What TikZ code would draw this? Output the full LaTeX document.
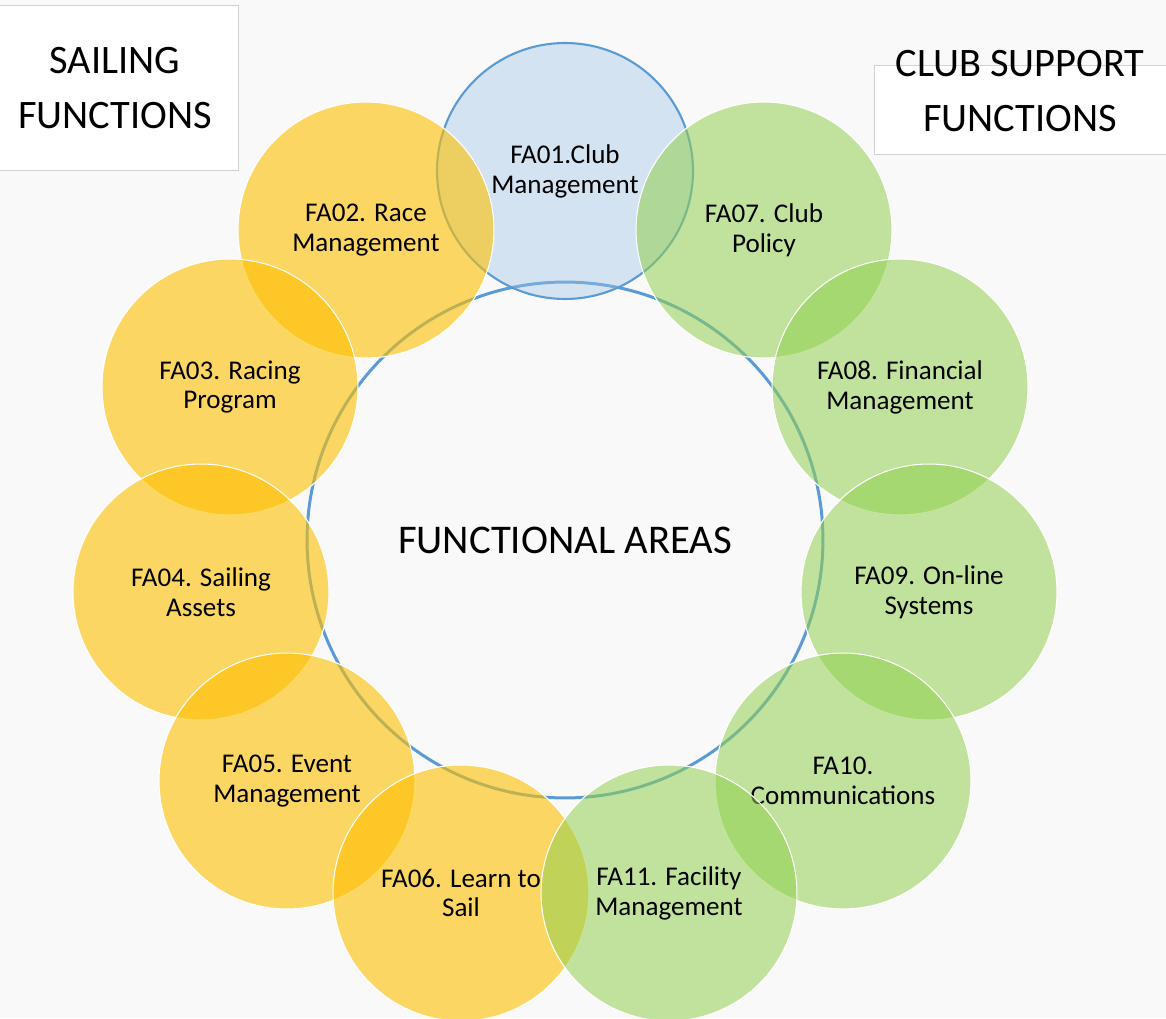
\documentclass[tikz,border=0pt]{standalone}
\usepackage{fontspec}
\setmainfont{Carlito}
\pgfdeclarelayer{bglayer}
\pgfsetlayers{bglayer,main}
\definecolor{ringblue}{HTML}{5B9BD5}
\definecolor{fayellow}{HTML}{FFC000}
\definecolor{fagreen}{HTML}{92D050}
\definecolor{fablue}{HTML}{9DC3E6}
\definecolor{paper}{HTML}{F9F9F9}
\tikzstyle{area}=[circle,minimum size=5.12cm,inner sep=0pt,draw=white,line width=0.6pt,align=center,text opacity=1,font=\fontsize{15.4}{17}\selectfont]
\tikzstyle{sail}=[area,fill=fayellow,fill opacity=0.6]
\tikzstyle{club}=[area,fill=fagreen,fill opacity=0.55]
\tikzstyle{head}=[area,fill=fablue,fill opacity=0.4,draw=ringblue,line width=1.2pt]
\tikzstyle{hub}=[circle,minimum size=10.32cm,inner sep=0pt,draw=ringblue,line width=1.7pt,font=\fontsize{23.2}{27}\selectfont]
\tikzstyle{title}=[align=center,inner sep=0pt,font=\fontsize{23}{31}\selectfont]
\tikzstyle{card}=[fill=white,draw=black!18,line width=0.5pt]

\begin{document}
\begin{tikzpicture}[x=0.02cm,y=0.02cm]
	\useasboundingbox (-565,-478) rectangle (601,540);
	\begin{pgfonlayer}{bglayer}
		\fill[paper] (-565,-478) rectangle (601,540);
	\end{pgfonlayer}
	% side headings
	\draw[style=card] (-567,535) rectangle (-327,370);
	\node [style=title] (sailing) at (-450,452) {SAILING\\FUNCTIONS};
	\draw[style=card] (309,475) rectangle (605,386);
	\node [style=title] (support) at (455,449) {CLUB SUPPORT\\FUNCTIONS};
	% functional areas
	\node [style=hub] (hub) at (0,0) {FUNCTIONAL AREAS};
	\node [style=head] (fa01) at (0,369) {FA01.Club\\Management};
	\node [style=sail] (fa02) at (-199,310) {FA02. Race\\Management};
	\node [style=sail] (fa03) at (-335,153) {FA03. Racing\\Program};
	\node [style=sail] (fa04) at (-364,-52) {FA04. Sailing\\Assets};
	\node [style=sail] (fa05) at (-278,-241) {FA05. Event\\Management};
	\node [style=sail] (fa06) at (-104,-353) {FA06. Learn to\\Sail};
	\node [style=club] (fa07) at (199,310) {FA07. Club\\Policy};
	\node [style=club] (fa08) at (335,153) {FA08. Financial\\Management};
	\node [style=club] (fa09) at (364,-52) {FA09. On-line\\Systems};
	\node [style=club] (fa10) at (278,-241) {FA10.\\Communications};
	\node [style=club] (fa11) at (104,-353) {FA11. Facility\\Management};
\end{tikzpicture}
\end{document}
